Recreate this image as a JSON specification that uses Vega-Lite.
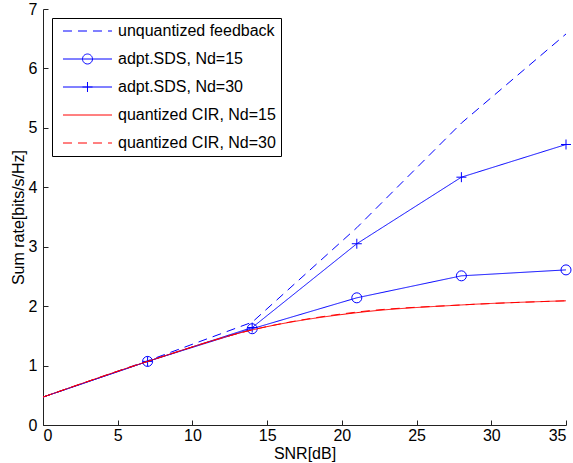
{
  "$schema": "https://vega.github.io/schema/vega-lite/v6.json",
  "width": 523,
  "height": 416,
  "autosize": {"type": "none"},
  "padding": {"left": 43, "top": 9, "right": 7, "bottom": 38},
  "background": "white",
  "config": {
    "view": {"stroke": null},
    "font": "Liberation Sans",
    "axis": {
      "grid": false,
      "domainColor": "#222222",
      "tickColor": "#222222",
      "labelColor": "#000000",
      "titleColor": "#000000",
      "labelFontSize": 16,
      "titleFontSize": 16,
      "titleFontWeight": "normal",
      "labelFont": "Liberation Sans",
      "titleFont": "Liberation Sans",
      "tickSize": -5
    }
  },
  "data": {
    "values": [
      {"s": "unquantized feedback", "x": 0, "y": 0.47},
      {"s": "unquantized feedback", "x": 7, "y": 1.08},
      {"s": "unquantized feedback", "x": 14, "y": 1.73},
      {"s": "unquantized feedback", "x": 21, "y": 3.32},
      {"s": "unquantized feedback", "x": 28, "y": 5.08},
      {"s": "unquantized feedback", "x": 35, "y": 6.58},
      {"s": "adpt.SDS, Nd=15", "x": 0, "y": 0.47},
      {"s": "adpt.SDS, Nd=15", "x": 7, "y": 1.07},
      {"s": "adpt.SDS, Nd=15", "x": 14, "y": 1.62},
      {"s": "adpt.SDS, Nd=15", "x": 21, "y": 2.14},
      {"s": "adpt.SDS, Nd=15", "x": 28, "y": 2.51},
      {"s": "adpt.SDS, Nd=15", "x": 35, "y": 2.61},
      {"s": "adpt.SDS, Nd=30", "x": 0, "y": 0.47},
      {"s": "adpt.SDS, Nd=30", "x": 7, "y": 1.07},
      {"s": "adpt.SDS, Nd=30", "x": 14, "y": 1.64},
      {"s": "adpt.SDS, Nd=30", "x": 21, "y": 3.05},
      {"s": "adpt.SDS, Nd=30", "x": 28, "y": 4.17},
      {"s": "adpt.SDS, Nd=30", "x": 35, "y": 4.72},
      {"s": "quantized CIR, Nd=15", "x": 0, "y": 0.47},
      {"s": "quantized CIR, Nd=15", "x": 7, "y": 1.07},
      {"s": "quantized CIR, Nd=15", "x": 14, "y": 1.6},
      {"s": "quantized CIR, Nd=15", "x": 21, "y": 1.89},
      {"s": "quantized CIR, Nd=15", "x": 28, "y": 2.02},
      {"s": "quantized CIR, Nd=15", "x": 35, "y": 2.09},
      {"s": "quantized CIR, Nd=30", "x": 0, "y": 0.47},
      {"s": "quantized CIR, Nd=30", "x": 7, "y": 1.07},
      {"s": "quantized CIR, Nd=30", "x": 14, "y": 1.6},
      {"s": "quantized CIR, Nd=30", "x": 21, "y": 1.9},
      {"s": "quantized CIR, Nd=30", "x": 28, "y": 2.02},
      {"s": "quantized CIR, Nd=30", "x": 35, "y": 2.09}
    ]
  },
  "encoding": {
    "x": {
      "field": "x", "type": "quantitative",
      "scale": {"domain": [0, 35], "nice": false},
      "axis": {"values": [0, 5, 10, 15, 20, 25, 30, 35], "title": "SNR[dB]", "labelPadding": 7, "titlePadding": 2}
    },
    "y": {
      "field": "y", "type": "quantitative",
      "scale": {"domain": [0, 7], "nice": false},
      "axis": {"values": [0, 1, 2, 3, 4, 5, 6, 7], "title": "Sum rate[bits/s/Hz]", "labelPadding": 11, "titlePadding": 2}
    }
  },
  "layer": [
    {
      "transform": [{"filter": "indexof(datum.s, 'quantized CIR') < 0"}],
      "mark": {"type": "line", "strokeWidth": 1, "interpolate": "linear"},
      "encoding": {
        "color": {
          "field": "s", "type": "nominal",
          "scale": {
            "domain": ["unquantized feedback", "adpt.SDS, Nd=15", "adpt.SDS, Nd=30", "quantized CIR, Nd=15", "quantized CIR, Nd=30"],
            "range": ["#0000ff", "#0000ff", "#0000ff", "#ff0000", "#ff0000"]
          },
          "legend": {
            "title": null, "orient": "top-left", "offset": 9, "padding": 5,
            "strokeColor": "#000000", "fillColor": "#ffffff",
            "labelFontSize": 16, "labelFont": "Liberation Sans", "labelColor": "#000000",
            "symbolSize": 196, "symbolStrokeWidth": 1, "labelOffset": 45, "rowPadding": 12, "labelLimit": 300,
            "encode": {"symbols": {"update": {
              "shape": {"signal": "datum.value === 'adpt.SDS, Nd=15' ? 'M-0.286,0H6.714M3.928,0A0.714,0.714,0,1,1,2.5,0A0.714,0.714,0,1,1,3.928,0' : datum.value === 'adpt.SDS, Nd=30' ? 'M-0.286,0H6.714M3.214,-0.714V0.714M2.5,0H3.928' : 'M-0.286,0H6.714'"},
              "stroke": {"signal": "indexof(datum.value, 'CIR') >= 0 ? '#ff0000' : '#0000ff'"},
              "fill": {"value": "transparent"},
              "opacity": {"value": 1}
            }}}
          }
        },
        "strokeDash": {
          "field": "s", "type": "nominal",
          "scale": {
            "domain": ["unquantized feedback", "adpt.SDS, Nd=15", "adpt.SDS, Nd=30", "quantized CIR, Nd=15", "quantized CIR, Nd=30"],
            "range": [[9, 6], [1, 0], [1, 0], [1, 0], [9, 6]]
          }
        }
      }
    },
    {
      "transform": [{"filter": "datum.x > 0 && datum.s === 'adpt.SDS, Nd=15'"}],
      "mark": {"type": "point", "shape": "circle", "filled": false, "color": "#0000ff", "size": 100, "strokeWidth": 1, "opacity": 1}
    },
    {
      "transform": [{"filter": "datum.x > 0 && datum.s === 'adpt.SDS, Nd=30'"}],
      "mark": {"type": "point", "shape": "M-1,0H1M0,-1V1", "filled": false, "color": "#0000ff", "size": 100, "strokeWidth": 1, "opacity": 1}
    },
    {
      "transform": [{"filter": "indexof(datum.s, 'quantized CIR') >= 0"}],
      "mark": {"type": "line", "strokeWidth": 1, "interpolate": "monotone"},
      "encoding": {
        "color": {"field": "s", "type": "nominal"},
        "strokeDash": {"field": "s", "type": "nominal"}
      }
    }
  ]
}
